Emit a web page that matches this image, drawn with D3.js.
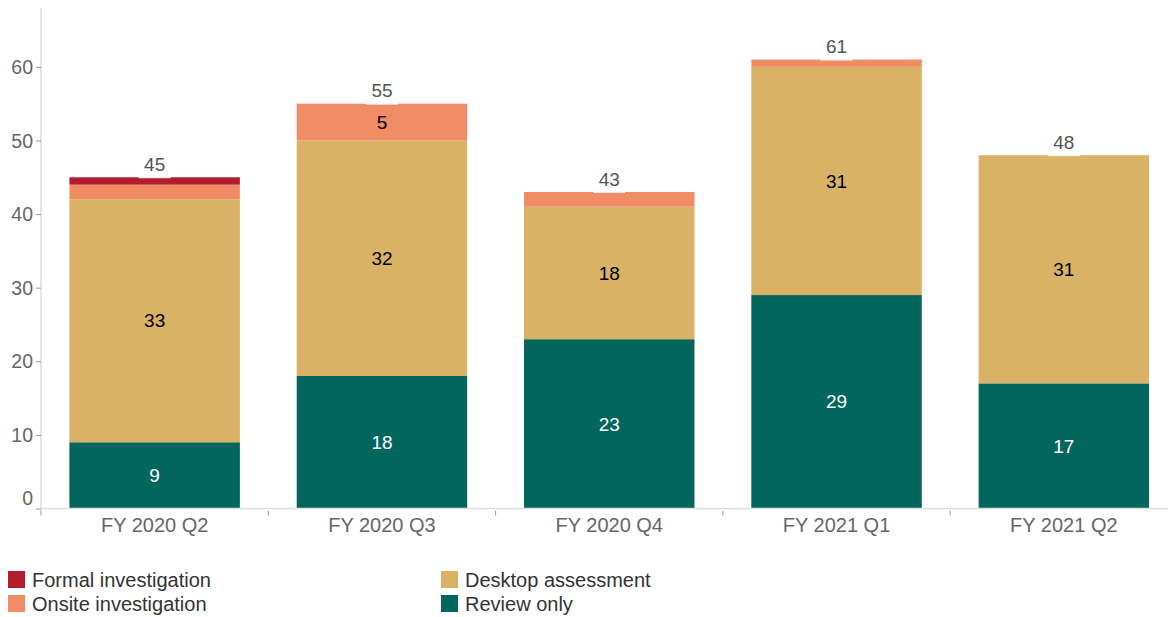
<!DOCTYPE html>
<html>
<head>
<meta charset="utf-8">
<script src="https://cdn.jsdelivr.net/npm/d3@7"></script>
<style>
  body { margin: 0; background: #fff; }
  svg { font-family: "Liberation Sans", Arial, sans-serif; }
</style>
</head>
<body>
<svg id="chart" width="1168" height="617"></svg>
<script>
// data
const quarters = ['FY 2020 Q2', 'FY 2020 Q3', 'FY 2020 Q4', 'FY 2021 Q1', 'FY 2021 Q2'];
const reviewOnly = [9, 18, 23, 29, 17];
const desktop = [33, 32, 18, 31, 31];
const onsite = [2, 5, 2, 1, 0];
const formal = [1, 0, 0, 0, 0];
const yTicks = [0, 10, 20, 30, 40, 50, 60];

const seriesNames = ['Review only', 'Desktop assessment', 'Onsite investigation', 'Formal investigation'];
const seriesColors = ['#02665e', '#d9b266', '#f08c65', '#b31b2e'];
const labelColors = ['#fff', '#000', '#000', '#fff'];

const rows = quarters.map(function (q, i) {
  return {q: q, 'Review only': reviewOnly[i], 'Desktop assessment': desktop[i],
    'Onsite investigation': onsite[i], 'Formal investigation': formal[i]};
});
const stacked = d3.stack().keys(seriesNames)(rows);

const svg = d3.select('#chart');
const padLeft = 41, baseY = 508.5, topY = 8;

let x = d3.scaleBand().domain(quarters).range([padLeft, 1177.5]).paddingInner(0.25).paddingOuter(0.125);
let y = d3.scaleLinear().domain([0, 68]).range([baseY, topY]);

// y axis
let yAxis = svg.append('g').attr('transform', 'translate(' + padLeft + ',0)')
  .call(d3.axisLeft(y).tickValues(yTicks).tickSize(5).tickPadding(3));
yAxis.select('.domain').attr('stroke', '#ddd').attr('stroke-width', 1.5)
  .attr('d', 'M0,' + topY + 'V' + (baseY + 2));
yAxis.selectAll('.tick line').attr('stroke', '#999');
yAxis.selectAll('.tick text').attr('fill', '#666').style('font-size', '19.5px')
  .attr('dy', function (d) { return d == 0 ? '-0.22em' : '0.34em'; });

// bars
let layers = svg.selectAll('g.layer').data(stacked).enter().append('g')
  .attr('class', 'layer')
  .attr('fill', function (d, i) { return seriesColors[i]; });

layers.selectAll('rect').data(function (d) { return d; }).enter().append('rect')
  .attr('x', function (d) { return x(d.data.q); })
  .attr('width', x.bandwidth())
  .attr('y', function (d) { return y(d[1]); })
  .attr('height', function (d) { return y(d[0]) - y(d[1]); });

// x axis
let xAxis = svg.append('g').attr('transform', 'translate(0,' + baseY + ')')
  .call(d3.axisBottom(x).tickSize(0).tickPadding(9));
xAxis.select('.domain').attr('stroke', '#ddd').attr('stroke-width', 1.5)
  .attr('d', 'M' + padLeft + ',0H1168');
xAxis.selectAll('.tick text').attr('fill', '#666').style('font-size', '20px');
xAxis.selectAll('line.sep').data(quarters).enter().append('line')
  .attr('class', 'sep')
  .attr('x1', function (d) { return x(d) - x.step() * x.paddingInner() / 2; })
  .attr('x2', function (d) { return x(d) - x.step() * x.paddingInner() / 2; })
  .attr('y1', 2).attr('y2', 7).attr('stroke', '#999');

// segment labels
stacked.forEach(function (layer, li) {
  svg.append('g').selectAll('text').data(layer.filter(function (d) { return d[1] - d[0] >= 3; }))
    .enter().append('text')
    .attr('x', function (d) { return x(d.data.q) + x.bandwidth() / 2; })
    .attr('y', function (d) { return (y(d[0]) + y(d[1])) / 2; })
    .attr('dy', '0.35em')
    .attr('text-anchor', 'middle')
    .attr('fill', labelColors[li])
    .style('font-size', '19px')
    .text(function (d) { return d[1] - d[0]; });
});

// totals
let totals = svg.append('g').selectAll('g').data(rows).enter().append('g')
  .attr('transform', function (d, i) {
    let t = reviewOnly[i] + desktop[i] + onsite[i] + formal[i];
    return 'translate(' + (x(d.q) + x.bandwidth() / 2) + ',' + y(t) + ')';
  });
totals.append('rect').attr('x', -16).attr('y', -24).attr('width', 32).attr('height', 25)
  .attr('fill', '#fff').attr('fill-opacity', 0.85);
totals.append('text')
  .attr('y', -13).attr('dy', '0.35em')
  .attr('text-anchor', 'middle').attr('fill', '#555').style('font-size', '19px')
  .text(function (d, i) { return reviewOnly[i] + desktop[i] + onsite[i] + formal[i]; });

// legend
const legendOrder = ['Formal investigation', 'Onsite investigation', 'Desktop assessment', 'Review only'];
let legend = svg.append('g').selectAll('g').data(legendOrder).enter().append('g')
  .attr('transform', function (d, i) {
    return 'translate(' + (i < 2 ? 8 : 441) + ',' + (571 + (i % 2) * 24) + ')';
  });
legend.append('rect').attr('width', 17).attr('height', 17)
  .attr('fill', function (d) { return seriesColors[seriesNames.indexOf(d)]; });
legend.append('text').attr('x', 24).attr('y', 8.5).attr('dy', '0.35em')
  .attr('fill', '#333').style('font-size', '20px')
  .text(function (d) { return d; });
</script>
</body>
</html>
